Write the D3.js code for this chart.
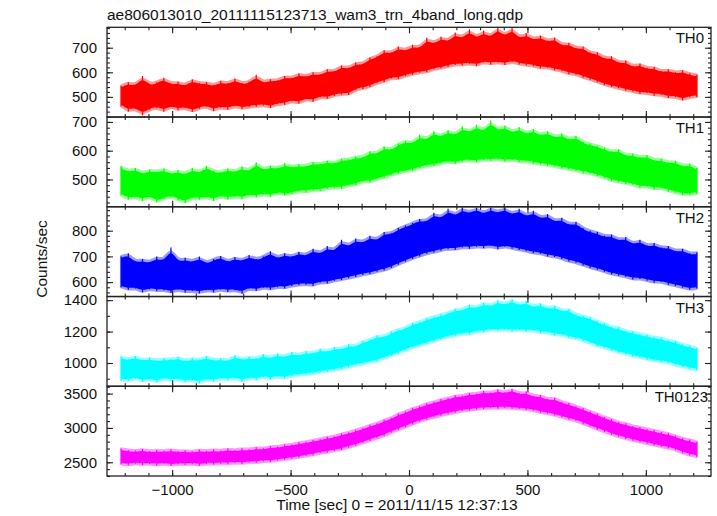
<!DOCTYPE html>
<html><head><meta charset="utf-8">
<script src="https://cdn.jsdelivr.net/npm/d3@7"></script>
<style>
body{margin:0;background:#fff;}
text{font-family:"Liberation Sans",Arial,Helvetica,sans-serif;}
</style></head>
<body><svg id="c" width="717" height="516"></svg>
<script>
// ---- data ----
const title = "ae806013010_20111115123713_wam3_trn_4band_long.qdp";
const xLabel = "Time [sec] 0 = 2011/11/15 12:37:13";
const yLabel = "Counts/sec";
const seriesNames = ["TH0","TH1","TH2","TH3","TH0123"];
const xTicks = [-1000,-500,0,500,1000];
const time = [-1215,-1185,-1155,-1125,-1095,-1065,-1035,-1005,-975,-945,-915,-885,-855,-825,-795,-765,-735,-705,-675,-645,-615,-585,-555,-525,-495,-465,-435,-405,-375,-345,-315,-285,-255,-225,-195,-165,-135,-105,-75,-45,-15,15,45,75,105,135,165,195,225,255,285,315,345,375,405,435,465,495,525,555,585,615,645,675,705,735,765,795,825,855,885,915,945,975,1005,1035,1065,1095,1125,1155,1185,1215];

const th0Hi = [545,560,548,585,552,560,578,555,562,548,572,556,560,548,566,555,575,556,562,590,560,572,568,585,578,596,585,600,592,612,605,628,618,640,635,660,665,690,680,705,690,712,700,740,718,745,728,762,740,775,742,770,745,783,748,783,740,760,735,750,728,742,712,720,700,705,680,682,658,665,640,648,625,636,618,622,605,612,600,608,595,590];
const th0Lo = [462,440,452,425,448,455,440,460,445,455,438,452,460,442,456,448,462,450,458,460,465,455,470,468,482,472,490,480,498,492,505,510,508,528,532,540,555,560,575,572,585,590,598,600,612,615,622,630,628,635,625,640,632,640,630,642,632,628,625,615,618,608,605,592,590,578,570,560,548,540,535,525,522,512,515,505,508,495,500,485,498,500];

const th1Hi = [545,530,540,522,535,528,538,522,532,520,540,525,548,530,526,538,528,545,530,560,535,548,540,556,545,552,548,560,555,565,558,572,570,580,578,598,592,615,605,625,635,628,655,640,668,650,672,655,685,665,690,668,705,672,688,665,682,660,675,655,668,648,660,640,652,630,625,618,610,598,605,585,590,578,585,568,572,560,565,548,555,540];
const th1Lo = [445,430,438,425,440,420,432,440,428,418,435,430,438,425,442,430,440,432,445,438,448,440,452,445,450,458,455,462,460,468,470,468,478,480,492,490,500,505,515,520,528,530,540,545,548,555,560,555,562,565,560,568,565,570,562,568,560,562,555,552,548,545,538,535,530,522,520,512,505,495,490,485,482,470,475,465,470,458,455,445,448,450];

const th2Hi = [700,712,680,690,678,700,685,735,682,695,680,700,675,690,702,680,698,685,705,690,700,720,695,712,700,718,705,730,712,740,722,765,740,770,755,780,765,795,790,810,820,830,845,838,870,850,885,860,890,870,890,868,890,872,890,865,885,858,878,850,865,838,850,825,835,810,800,795,780,785,765,775,750,765,742,752,735,740,722,730,712,715];
const th2Lo = [580,570,575,560,572,565,568,558,570,560,565,556,568,560,570,562,568,555,575,565,578,570,580,575,585,588,590,585,598,595,605,608,615,620,628,632,640,645,655,668,680,690,700,710,715,722,728,725,735,730,738,732,740,728,738,730,725,720,712,710,700,698,690,680,675,665,655,648,640,630,625,620,610,612,605,598,600,590,585,578,570,575];

const th3Hi = [1040,1025,1045,1020,1035,1018,1030,1025,1040,1015,1032,1022,1045,1020,1030,1018,1050,1025,1040,1030,1055,1035,1060,1042,1070,1052,1075,1065,1090,1078,1100,1092,1120,1110,1140,1150,1175,1170,1200,1215,1225,1255,1262,1285,1295,1310,1320,1345,1340,1370,1355,1385,1365,1400,1375,1405,1372,1395,1360,1380,1350,1365,1335,1345,1310,1300,1290,1265,1255,1230,1228,1205,1200,1185,1180,1165,1162,1145,1140,1120,1110,1095];
const th3Lo = [890,885,900,880,895,875,900,885,895,878,890,870,895,882,900,888,902,880,905,890,910,895,912,900,918,920,925,930,940,945,955,960,972,985,990,1005,1010,1030,1045,1060,1080,1095,1110,1120,1140,1150,1165,1170,1185,1180,1200,1195,1210,1205,1212,1200,1210,1200,1205,1190,1192,1175,1178,1160,1155,1140,1125,1105,1095,1080,1065,1055,1040,1035,1020,1015,1005,1000,985,975,960,955];

const th0123Hi = [2700,2680,2670,2695,2665,2680,2668,2690,2665,2675,2660,2685,2668,2690,2672,2700,2680,2705,2690,2720,2705,2735,2730,2760,2760,2790,2800,2825,2840,2870,2880,2920,2935,2975,3000,3045,3070,3120,3150,3210,3240,3290,3315,3360,3380,3420,3435,3475,3470,3510,3500,3540,3515,3560,3520,3570,3505,3530,3470,3480,3425,3440,3380,3365,3320,3290,3240,3210,3160,3130,3085,3070,3030,3015,2985,2970,2940,2925,2890,2850,2830,2800];
const th0123Lo = [2470,2455,2480,2460,2475,2450,2478,2445,2470,2460,2472,2450,2475,2465,2480,2470,2485,2475,2495,2490,2510,2505,2525,2535,2550,2565,2590,2600,2630,2640,2665,2680,2715,2740,2780,2810,2850,2880,2930,2970,3010,3050,3090,3120,3155,3175,3200,3220,3245,3250,3270,3275,3285,3280,3290,3280,3275,3262,3250,3220,3205,3180,3155,3120,3100,3055,3020,2975,2940,2900,2870,2840,2815,2790,2770,2745,2725,2700,2680,2630,2600,2580];

const yMajorTicks = [[500,600,700],[500,600,700],[600,700,800],[1000,1200,1400],[2500,3000,3500]];

// ---- layout / style ----
const panels = [
  {name:seriesNames[0], hi:th0Hi, lo:th0Lo, color:"#ff0000", halo:"#ff9a9a", domain:[418,783], minor:20},
  {name:seriesNames[1], hi:th1Hi, lo:th1Lo, color:"#00ff00", halo:"#9aff9a", domain:[405,717], minor:20},
  {name:seriesNames[2], hi:th2Hi, lo:th2Lo, color:"#0000ff", halo:"#9a9aff", domain:[544,893], minor:20},
  {name:seriesNames[3], hi:th3Hi, lo:th3Lo, color:"#00ffff", halo:"#9affff", domain:[852,1423], minor:100},
  {name:seriesNames[4], hi:th0123Hi, lo:th0123Lo, color:"#ff00ff", halo:"#ff9aff", domain:[2300,3607], minor:100}
];
const L=107, R=711, T0=27.3, B=476;
const ph=(B-T0)/panels.length;
const svg=d3.select("#c");
const x=d3.scaleLinear().domain([-1275,1275]).range([L,R]);
const xMinor=d3.range(-1200,1201,100);
const frameColor="#222";

svg.append("text").attr("x",L).attr("y",20).attr("font-size",15.5).attr("fill","#111").text(title);

panels.forEach((p,i)=>{
  const top=T0+i*ph, bot=top+ph;
  const y=d3.scaleLinear().domain(p.domain).range([bot,top]);
  const clipId="clip"+i;
  svg.append("clipPath").attr("id",clipId).append("rect").attr("x",L).attr("y",top).attr("width",R-L).attr("height",ph);
  const g=svg.append("g").attr("clip-path",`url(#${clipId})`);
  const area=d3.area().curve(d3.curveBasis)
    .x((d,k)=>x(time[k])).y0((d,k)=>y(p.lo[k])).y1((d,k)=>y(p.hi[k]));
  // light error-bar tint around the band
  g.append("path").datum(p.hi).attr("d",area).attr("fill",p.halo)
    .attr("stroke",p.halo).attr("stroke-width",2.4).attr("stroke-linejoin","round");
  // individual bins: vertical extent lo..hi (spikes)
  g.selectAll("line.bin").data(p.hi).join("line").attr("class","bin")
    .attr("x1",(d,k)=>x(time[k])).attr("x2",(d,k)=>x(time[k]))
    .attr("y1",(d,k)=>y(p.lo[k])).attr("y2",(d,k)=>y(p.hi[k]))
    .attr("stroke",p.color).attr("stroke-width",1.2);
  // solid core of the band
  const core=d3.area().curve(d3.curveBasis)
    .x((d,k)=>x(time[k])).y0((d,k)=>y(p.lo[k])-1.5).y1((d,k)=>y(p.hi[k])+1.5);
  g.append("path").datum(p.hi).attr("d",core).attr("fill",p.color);

  const yMinor=d3.range(Math.ceil(p.domain[0]/p.minor)*p.minor,p.domain[1],p.minor);
  svg.append("g").attr("transform",`translate(${L},0)`)
    .call(d3.axisLeft(y).tickValues(yMinor).tickSize(-3).tickFormat(""));
  const glM=svg.append("g").attr("transform",`translate(${L},0)`)
    .call(d3.axisLeft(y).tickValues(yMajorTicks[i]).tickSize(-6).tickPadding(10).tickFormat(d3.format("d")));
  glM.selectAll("text").attr("font-size",15).attr("fill","#111").attr("font-family","Liberation Sans, Arial, sans-serif");
  svg.append("g").attr("transform",`translate(${R},0)`).call(d3.axisRight(y).tickValues(yMinor).tickSize(-3).tickFormat(""));
  svg.append("g").attr("transform",`translate(${R},0)`).call(d3.axisRight(y).tickValues(yMajorTicks[i]).tickSize(-6).tickFormat(""));
  svg.append("g").attr("transform",`translate(0,${top})`).call(d3.axisTop(x).tickValues(xMinor).tickSize(-3).tickFormat(""));
  svg.append("g").attr("transform",`translate(0,${top})`).call(d3.axisTop(x).tickValues(xTicks).tickSize(-6).tickFormat(""));
  svg.append("g").attr("transform",`translate(0,${bot})`).call(d3.axisBottom(x).tickValues(xMinor).tickSize(-3).tickFormat(""));
  const gb=svg.append("g").attr("transform",`translate(0,${bot})`)
    .call(d3.axisBottom(x).tickValues(xTicks).tickSize(-6).tickPadding(8).tickFormat(i===panels.length-1?d3.format("d"):""));
  gb.selectAll("text").attr("font-size",15).attr("fill","#111").attr("font-family","Liberation Sans, Arial, sans-serif");

  svg.append("rect").attr("x",L).attr("y",top).attr("width",R-L).attr("height",ph)
    .attr("fill","none").attr("stroke",frameColor).attr("stroke-width",1.3);
  svg.append("text").attr("x",i===panels.length-1?708:704).attr("y",top+16).attr("text-anchor","end")
    .attr("font-size",15).attr("fill","#111").text(p.name);
});
svg.selectAll(".domain").remove();
svg.selectAll(".tick line").attr("stroke",frameColor).attr("stroke-width",1.1);

svg.append("text").attr("x",397).attr("y",510).attr("text-anchor","middle").attr("font-size",15.5).attr("fill","#111").text(xLabel);
svg.append("text").attr("transform","translate(46.5,259) rotate(-90)").attr("text-anchor","middle").attr("font-size",15.5).attr("fill","#111").text(yLabel);
</script></body></html>
